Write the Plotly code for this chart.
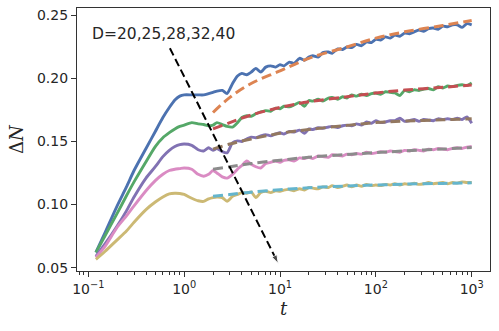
import plotly.graph_objects as go

# time grid of the simulated curves
t_early = [0.12, 0.15, 0.2, 0.25, 0.3, 0.4, 0.5, 0.6, 0.7, 0.8, 0.9, 1.0,
           1.2, 1.4, 1.6, 1.8, 2.0, 2.2, 2.5, 2.8]
t_late = [3.2, 3.6, 4.0, 4.5, 5.0, 5.6, 6.3, 7.1, 8.0, 9.0,
          10, 11, 12.5, 14, 16, 18, 20, 22, 25, 28,
          32, 35, 40, 45, 50, 56, 63, 71, 80, 90,
          100, 112, 126, 141, 158, 178, 200, 224, 251, 282,
          316, 355, 398, 447, 501, 562, 631, 708, 794, 891,
          1000]
t_data = t_early + t_late

d20 = [0.062, 0.078, 0.099, 0.114, 0.127, 0.1445, 0.158, 0.169, 0.177, 0.183,
       0.186, 0.187, 0.187, 0.187, 0.187, 0.188, 0.189, 0.190, 0.1905, 0.188,
       0.196, 0.202, 0.204, 0.203, 0.205, 0.208, 0.205, 0.209, 0.210, 0.209,
       0.211, 0.210, 0.213, 0.212, 0.216, 0.2145, 0.217, 0.218, 0.217, 0.2205,
       0.221, 0.220, 0.2235, 0.223, 0.225, 0.2245, 0.227, 0.226, 0.229, 0.2285,
       0.231, 0.2305, 0.233, 0.232, 0.2345, 0.2335, 0.236, 0.2355, 0.237, 0.2385,
       0.2375, 0.2395, 0.240, 0.239, 0.2415, 0.241, 0.2425, 0.2425, 0.2405, 0.2435,
       0.2425]
d25 = [0.062, 0.0755, 0.093, 0.107, 0.118, 0.134, 0.146, 0.153, 0.157, 0.160,
       0.162, 0.163, 0.165, 0.164, 0.1635, 0.1625, 0.163, 0.165, 0.1635, 0.162,
       0.1615, 0.165, 0.169, 0.1705, 0.170, 0.172, 0.1735, 0.1745, 0.174, 0.1765,
       0.176, 0.178, 0.1775, 0.179, 0.181, 0.178, 0.1825, 0.182, 0.1835, 0.182,
       0.1845, 0.185, 0.1835, 0.1855, 0.1845, 0.187, 0.186, 0.1875, 0.1865, 0.188,
       0.1885, 0.1875, 0.1895, 0.189, 0.1885, 0.1865, 0.1905, 0.1895, 0.191, 0.1905,
       0.1915, 0.192, 0.191, 0.1935, 0.1925, 0.194, 0.1935, 0.1945, 0.195, 0.1945,
       0.1965]
d28 = [0.059, 0.069, 0.083, 0.095, 0.106, 0.121, 0.130, 0.138, 0.143, 0.146,
       0.1475, 0.148, 0.147, 0.1435, 0.1425, 0.145, 0.143, 0.1445, 0.142, 0.141,
       0.149, 0.1505, 0.150, 0.152, 0.1535, 0.153, 0.1545, 0.1555, 0.1545, 0.156,
       0.157, 0.156, 0.158, 0.1575, 0.159, 0.1565, 0.160, 0.1595, 0.161, 0.1605,
       0.1615, 0.162, 0.161, 0.1625, 0.163, 0.1625, 0.164, 0.163, 0.1655, 0.1645,
       0.1665, 0.165, 0.1655, 0.1665, 0.1665, 0.1685, 0.166, 0.1665, 0.1675, 0.166,
       0.1675, 0.167, 0.1665, 0.168, 0.1675, 0.168, 0.1675, 0.1685, 0.1675, 0.1695,
       0.1645]
d32 = [0.058, 0.067, 0.082, 0.091, 0.099, 0.111, 0.119, 0.124, 0.127, 0.128,
       0.1285, 0.129, 0.128, 0.124, 0.1225, 0.124, 0.127, 0.125, 0.122, 0.121,
       0.124, 0.128, 0.131, 0.1345, 0.132, 0.130, 0.129, 0.1325, 0.1335, 0.1345,
       0.1335, 0.135, 0.1355, 0.1345, 0.137, 0.1365, 0.1375, 0.1365, 0.1385, 0.138,
       0.1375, 0.1395, 0.139, 0.1385, 0.140, 0.1395, 0.1405, 0.140, 0.1415, 0.1405,
       0.141, 0.142, 0.1415, 0.1425, 0.142, 0.1415, 0.143, 0.1425, 0.1435, 0.143,
       0.1425, 0.144, 0.1435, 0.1445, 0.144, 0.1435, 0.1445, 0.145, 0.1445, 0.1455,
       0.146]
d40 = [0.0565, 0.063, 0.072, 0.079, 0.086, 0.096, 0.102, 0.106, 0.1085, 0.109,
       0.1088, 0.108, 0.105, 0.103, 0.1025, 0.1045, 0.1055, 0.106, 0.1055, 0.1026,
       0.1065, 0.108, 0.1095, 0.109, 0.110, 0.1055, 0.1095, 0.1105, 0.1095, 0.111,
       0.1105, 0.1115, 0.112, 0.111, 0.1125, 0.1115, 0.1135, 0.113, 0.1125, 0.114,
       0.1135, 0.115, 0.1135, 0.1145, 0.1155, 0.114, 0.1155, 0.1145, 0.116, 0.115,
       0.1155, 0.115, 0.116, 0.1155, 0.1165, 0.1155, 0.1165, 0.116, 0.117, 0.116,
       0.1165, 0.1175, 0.1165, 0.117, 0.1175, 0.1165, 0.1175, 0.117, 0.118, 0.1175,
       0.1175]

# fitted curves
t_fit = [2, 3, 5, 10, 20, 50, 100, 200, 500, 1000]
fit20 = [0.173, 0.185, 0.196, 0.206, 0.216, 0.225, 0.232, 0.237, 0.242, 0.246]
fit25 = [0.160, 0.165, 0.171, 0.177, 0.1815, 0.1855, 0.1885, 0.1908, 0.193, 0.1948]
fit28 = [0.144, 0.148, 0.152, 0.1565, 0.1595, 0.1628, 0.1650, 0.1662, 0.1672, 0.1680]
fit32 = [0.128, 0.130, 0.1325, 0.1352, 0.1375, 0.1397, 0.1412, 0.1425, 0.1440, 0.1452]
fit40 = [0.1066, 0.108, 0.1098, 0.1118, 0.1133, 0.1147, 0.1155, 0.1162, 0.1168, 0.1172]

arrow_t = [0.71, 9.6]
arrow_y = [0.224, 0.0532]
label_text = "D=20,25,28,32,40"

x_tickvals = [0.1, 1, 10, 100, 1000]
x_ticktext = ["10<sup>−1</sup>", "10<sup>0</sup>", "10<sup>1</sup>", "10<sup>2</sup>", "10<sup>3</sup>"]
y_tickvals = [0.05, 0.10, 0.15, 0.20, 0.25]

data_colors = ["#4C72B0", "#55A868", "#8172B3", "#DA8BC3", "#CCB974"]
fit_colors = ["#DD8452", "#C44E52", "#937860", "#8C8C8C", "#64B5CD"]

fig = go.Figure()
series = [d20, d25, d28, d32, d40]
fits = [fit20, fit25, fit28, fit32, fit40]
for s, f, cd, cf in zip(series, fits, data_colors, fit_colors):
    fig.add_trace(go.Scatter(x=t_data, y=s, mode="lines",
                             line=dict(color=cd, width=2.9, shape="spline", smoothing=0.6)))
    fig.add_trace(go.Scatter(x=t_fit, y=f, mode="lines",
                             line=dict(color=cf, width=3, dash="10px,5px", shape="spline")))

fig.add_trace(go.Scatter(x=arrow_t, y=arrow_y, mode="lines+markers",
                         line=dict(color="black", width=2, dash="8px,4px"),
                         marker=dict(symbol="arrow", size=[0, 9], color="black",
                                     angleref="previous")))

fig.add_annotation(x=-0.215, y=0.235, xref="x", yref="y", text=label_text,
                   showarrow=False, font=dict(family="DejaVu Sans", size=15.5, color="#262626"))

axis_common = dict(showline=True, linecolor="#333333", linewidth=1.2, mirror=True,
                   ticks="outside", ticklen=5, tickwidth=1.1, tickcolor="#333333",
                   showgrid=False, zeroline=False, automargin=False,
                   tickfont=dict(family="DejaVu Sans", size=14, color="#262626"))

fig.update_xaxes(type="log", range=[-1.118, 3.191], tickvals=x_tickvals, ticktext=x_ticktext,
                 minor=dict(ticks="outside", ticklen=3, tickcolor="#333333", dtick="D1", showgrid=False),
                 title=dict(text="<i>t</i>", font=dict(family="DejaVu Serif", size=18, color="#262626"),
                            standoff=6),
                 **axis_common)
fig.update_yaxes(range=[0.0473, 0.2559], tickvals=y_tickvals,
                 tickformat=".2f",
                 title=dict(text="Δ<i>N</i>", font=dict(family="DejaVu Serif", size=18, color="#262626"),
                            standoff=8),
                 **axis_common)

fig.update_layout(width=499, height=331, margin=dict(l=77, r=9, t=8, b=60),
                  plot_bgcolor="white", paper_bgcolor="white", showlegend=False)

fig.write_html("out.html", config={"displayModeBar": False},
               post_script="document.body.style.margin='0';document.body.style.overflow='hidden';")
